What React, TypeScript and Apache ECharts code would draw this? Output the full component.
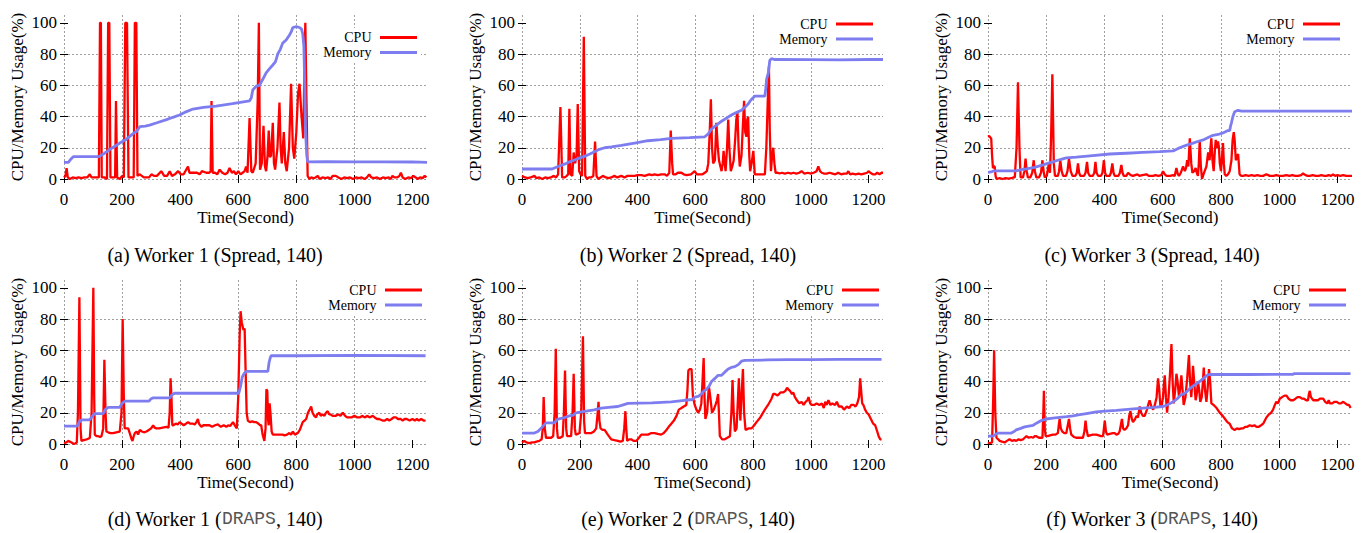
import React, { useEffect, useRef } from 'react';
import * as echarts from 'echarts';

const X_TICKS = [0, 200, 400, 600, 800, 1000, 1200];
const Y_TICKS = [0, 20, 40, 60, 80, 100];
const X_MAX = 1250;
const Y_MAX = 105;
const SERIES_NAMES = ['CPU', 'Memory'];
const CAPTIONS = [
  '(a) Worker 1 (Spread, 140)',
  '(b) Worker 2 (Spread, 140)',
  '(c) Worker 3 (Spread, 140)',
  '(d) Worker 1 ({m|DRAPS}, 140)',
  '(e) Worker 2 ({m|DRAPS}, 140)',
  '(f) Worker 3 ({m|DRAPS}, 140)',
];

const cpuA = [[0,1],[5,2],[9,7],[13,1],[20,0],[30,1],[40,0.5],[50,1],[60,0.5],[70,1],[80,1],[89,3],[95,1],[105,1],[115,1],[120,1],[124,100],[127,100],[130,1],[140,1],[148,0],[152,100],[156,100],[160,1],[170,1],[176,1],[179,50],[183,1],[192,0],[200,2],[206,1],[211,100],[217,100],[222,1],[232,1],[240,1],[244,100],[249,100],[253,2],[260,3],[268,2],[275,1],[285,1],[293,1],[301,3],[310,2],[320,2],[335,5],[345,2],[355,2],[364,5],[372,2],[382,3],[393,5],[402,3],[412,3],[427,8],[432,4],[445,4],[458,4],[467,3],[475,5],[490,4],[500,4],[505,5],[508,50],[512,4],[520,4],[528,3],[536,6],[545,4],[555,3],[563,4],[570,7],[578,4],[585,5],[592,3],[600,5],[608,3],[615,4],[622,5],[627,8],[632,4],[639,39],[645,5],[650,4],[660,10],[667,50],[671,100],[675,6],[681,10],[687,34],[692,8],[696,5],[701,15],[705,31],[709,14],[713,15],[719,36],[723,10],[727,6],[735,20],[742,49],[746,20],[750,10],[757,30],[762,10],[767,5],[775,20],[782,61],[788,20],[793,13],[800,30],[806,55],[811,61],[818,40],[824,26],[828,70],[831,100],[835,50],[839,2],[845,0],[852,1],[860,0.5],[866,1],[874,2],[880,0],[890,1],[900,0.5],[910,1],[918,0],[925,2],[936,2],[945,1],[955,0],[965,1],[975,0.5],[985,1],[995,0],[1005,1],[1015,0.5],[1025,1],[1035,0],[1043,1],[1051,3],[1058,1],[1068,0.5],[1078,1],[1088,0],[1098,1],[1108,0.5],[1118,1],[1125,0],[1131,2],[1138,1],[1148,1],[1155,2],[1160,4],[1166,1],[1175,0],[1185,1],[1195,0.5],[1203,2],[1211,1],[1218,0],[1226,1],[1235,0.5],[1242,2],[1248,1]];
const memA = [[0,10.7],[15,10.7],[25,13],[32,14.3],[120,14.3],[140,16.5],[158,19],[175,21],[192,23],[215,25.5],[238,29],[250,30.5],[261,33.5],[280,33.8],[295,34.5],[320,36],[353,38],[375,39.5],[398,41],[420,43],[444,44.8],[480,45.8],[524,46.7],[580,48.3],[639,50],[645,52],[650,57],[662,59.5],[673,60],[685,64],[696,68],[705,70],[719,73],[728,75],[736,80],[745,83],[753,87],[765,89],[776,92],[782,94],[788,97],[800,97.5],[811,97],[818,96],[822,93],[826,85],[829,60],[832,30],[836,15],[839,11],[900,11.1],[1000,11],[1100,11],[1200,10.9],[1250,10.6]];

const cpuB = [[0,2],[10,1],[20,0.5],[30,1],[43,2],[50,0.5],[60,1],[70,0],[80,1],[90,0.5],[100,1],[110,2],[118,1],[125,3],[133,46],[139,1],[148,1],[155,2],[160,3],[164,45],[168,3],[174,2],[179,17],[184,10],[189,15],[193,48],[198,5],[203,3],[208,2],[214,91],[219,2],[225,0],[232,1],[240,1],[247,2],[253,24],[258,2],[264,0],[272,1],[280,2],[290,1],[300,0.5],[309,1],[320,2],[330,1],[344,2],[355,1],[365,2],[378,2],[390,2],[400,2.5],[413,2.5],[425,2],[440,3],[450,2.5],[459,3],[470,2.5],[482,3],[494,3],[502,2],[510,4],[515,31],[520,10],[523,3],[532,3],[540,4],[552,4],[560,3],[570,2.5],[585,3],[598,5],[605,3],[615,3],[625,3],[633,4],[640,5],[645,10],[650,30],[654,51],[658,20],[662,10],[668,12],[673,36],[678,20],[682,12],[687,8],[691,5],[695,10],[698,18],[702,10],[705,5],[710,20],[714,38],[718,20],[723,5],[728,8],[733,12],[738,25],[742,38],[746,43],[750,20],[754,8],[760,15],[765,35],[769,50],[773,30],[777,27],[780,38],[783,40],[787,15],[790,5],[795,10],[801,18],[806,3],[815,3],[825,3],[835,3],[841,3],[846,20],[851,50],[855,72],[858,30],[862,5],[866,15],[870,20],[874,10],[878,4],[885,4],[892,3.5],[900,4],[910,3.5],[922,4],[932,3.5],[940,4],[950,3.5],[960,4],[968,5],[978,3.5],[990,4],[1000,3.5],[1010,4],[1020,5],[1026,8],[1032,5],[1038,4],[1045,3.5],[1055,3.5],[1065,4],[1075,3.5],[1085,3],[1095,4],[1105,3],[1115,3.5],[1125,3.5],[1130,5],[1136,3],[1145,3.5],[1155,3],[1165,3.5],[1175,3],[1185,3.5],[1195,4],[1200,5],[1206,4],[1215,3],[1223,3],[1230,4],[1238,3],[1245,4],[1250,4]];
const memB = [[0,6.4],[104,6.4],[125,8],[147,9.5],[165,11],[182,12.2],[200,13.5],[216,14.5],[235,16],[251,17.5],[268,19],[286,20],[310,20.6],[344,21.5],[390,23],[436,24.5],[480,25.2],[517,26],[580,26.5],[633,27],[645,29],[656,32],[670,34],[691,37],[708,39],[725,41],[742,42.5],[760,44],[772,46],[783,48],[790,50],[795,51],[806,53],[841,53],[844,58],[847,64],[853,68],[858,76],[864,77],[876,76.5],[1000,76.4],[1100,76.3],[1200,76.5],[1250,76.5]];

const cpuC = [[0,27],[4,27.5],[11,26],[14,15],[17,7],[20,8],[23,8],[26,2],[29,0],[40,0.5],[50,0],[60,0.5],[70,0.3],[80,0.5],[88,1],[92,1],[98,20],[103,62],[108,20],[112,1],[120,1],[125,5],[129,13],[133,5],[137,1],[145,1],[152,4],[157,12],[161,5],[166,1],[175,1],[182,4],[187,12],[191,5],[195,1],[202,2],[209,10],[213,4],[217,30],[221,67],[226,10],[230,2],[240,2],[244,5],[248,12],[253,5],[258,2],[268,2],[273,5],[278,13],[284,5],[290,2],[300,2],[305,4],[309,10],[313,4],[317,2],[330,2],[335,4],[340,11],[344,4],[349,2],[360,2],[365,4],[369,11],[373,4],[378,2],[388,2],[393,4],[398,12],[402,4],[406,2],[418,2],[422,4],[427,10],[431,4],[435,2],[448,2],[453,4],[458,9],[462,4],[466,2],[475,2],[481,4],[490,2.5],[498,2],[505,2.5],[513,3],[520,2],[530,2.5],[544,3],[552,2],[560,2],[567,2],[575,2.5],[585,2],[595,2.5],[601,5],[607,3],[613,2],[625,2],[635,2.5],[641,2],[647,7],[652,3],[656,2],[662,4],[666,6],[670,8],[676,5],[680,7],[684,12],[688,8],[693,26],[698,10],[702,4],[708,5],[713,7],[717,4],[721,2],[724,10],[727,25],[731,8],[735,0],[740,3],[744,5],[750,8],[756,17],[761,12],[764,20],[767,26],[771,12],[775,5],[779,18],[782,25],[786,20],[790,24],[793,20],[796,10],[800,5],[804,15],[807,23],[810,10],[813,3],[818,2],[824,3],[830,5],[836,12],[840,25],[844,30],[847,25],[851,12],[855,14],[859,16],[862,8],[864,3],[870,2],[876,2],[885,2.5],[895,2],[905,2.5],[915,2],[925,2.5],[935,2],[945,2],[956,3],[962,2.5],[968,2],[980,2],[990,2.5],[1000,2],[1013,2],[1025,2.5],[1035,2],[1045,2.5],[1055,2],[1065,2],[1075,2.5],[1082,3.5],[1090,2.5],[1098,2],[1105,2],[1115,2.5],[1125,2],[1135,2],[1145,2.5],[1155,2],[1162,2],[1170,2.5],[1178,2],[1185,3],[1192,2],[1200,2.5],[1210,2],[1220,2.5],[1230,2],[1242,2],[1250,2]];
const memC = [[0,4.3],[10,4.5],[17,5],[25,5.2],[97,5.2],[115,6],[132,6.5],[160,7.5],[189,9],[205,10],[223,11],[245,12.3],[269,13.5],[303,14],[360,15],[418,16],[475,16.5],[532,17],[590,17.5],[636,18],[648,19],[658,20],[680,21.5],[704,23],[720,24],[739,25],[756,26.5],[773,28],[790,28.5],[807,29.5],[824,31],[830,31],[833,34],[836,36],[841,40],[847,43],[859,44],[870,43.5],[1000,43.5],[1100,43.5],[1200,43.5],[1250,43.5]];

const cpuD = [[0,0.5],[8,1],[15,2],[20,1.5],[26,1],[34,0],[40,0.5],[44,1],[48,20],[53,94],[57,10],[60,2],[68,2.5],[78,3],[85,3.5],[89,4],[95,20],[101,100],[104,30],[106,6],[112,5],[118,5],[124,4.5],[129,5],[135,10],[139,54],[143,20],[146,8],[152,7.5],[160,7],[169,7],[180,7.5],[192,8],[198,20],[202,80],[206,30],[209,10],[215,10],[221,10],[228,6],[233,3],[236,2],[240,5],[244,7],[250,8],[255,6],[261,9],[268,8],[275,7.5],[284,8],[292,9],[300,10],[307,12],[312,10.5],[318,10],[328,10],[340,10.5],[353,11],[360,10.5],[364,20],[367,42],[370,30],[373,12],[376,12],[385,13],[392,12.5],[398,14],[405,13],[412,12],[420,13],[427,14],[435,13],[444,13],[450,12.5],[456,14],[461,16],[465,13],[473,11],[480,12],[490,12],[501,12],[510,11],[520,12],[530,12.5],[540,11],[550,12],[559,11],[565,12],[572,11.5],[582,14],[588,12],[595,10],[600,30],[605,70],[608,85],[612,78],[618,73],[622,74],[625,50],[629,20],[633,15],[640,14],[648,14.5],[655,14],[662,14],[670,13],[675,12],[679,12],[684,6],[690,2],[694,10],[697,35],[700,34],[703,15],[705,12],[708,26],[711,20],[715,8],[719,6],[730,6],[740,6],[748,6],[753,6],[760,5.5],[768,6],[776,7],[782,6],[788,8],[795,6],[805,7],[812,9],[816,11],[822,14],[828,15],[834,16],[840,20],[846,22],[851,24],[856,20],[862,18],[868,17],[872,19],[879,20],[884,18],[890,19],[897,18],[902,20],[908,21],[913,19],[918,19],[925,18],[935,18],[945,19],[952,18],[960,20],[968,18],[975,17],[982,17],[990,17],[1000,18],[1010,17],[1018,17],[1028,18],[1035,17],[1045,18],[1052,17],[1063,18],[1070,17],[1078,16],[1085,16],[1097,15],[1105,15],[1113,16],[1120,15],[1128,16],[1135,17],[1143,17],[1150,16],[1160,16],[1166,15],[1173,16],[1180,16],[1190,15],[1200,16],[1208,15],[1215,16],[1222,15],[1230,16],[1238,15],[1245,15]];
const memD = [[0,11.5],[46,11.5],[52,14],[61,15.5],[89,15.5],[98,18],[106,19.5],[135,19.5],[142,22],[152,23.5],[192,23.5],[200,26],[210,27.5],[293,27.5],[300,29],[307,29.5],[364,29.5],[372,31.5],[381,32.5],[500,32.5],[602,32.5],[608,37],[614,43],[620,45],[627,46.5],[702,46.5],[706,52],[710,55],[713,56.5],[800,56.5],[1000,56.7],[1245,56.5]];

const cpuE = [[0,1],[8,2],[15,1],[25,0.5],[35,1],[43,1],[50,1.5],[60,2],[68,3],[72,10],[75,30],[79,10],[83,4],[90,4],[101,4],[108,5],[113,20],[117,61],[121,10],[124,4],[132,4],[141,5],[145,20],[149,47],[153,10],[156,5],[163,5],[170,5],[175,20],[179,45],[183,10],[186,6],[193,6.5],[199,7],[205,20],[211,69],[215,15],[218,7],[228,7],[240,7],[249,8],[257,10],[262,20],[265,27],[268,15],[272,10],[279,9],[286,9],[297,6],[309,3],[320,2.5],[332,2],[340,1.5],[349,2],[354,10],[358,21],[361,10],[364,2],[371,3],[378,3],[386,2],[396,2],[405,4],[413,6],[424,6],[436,6],[448,7],[459,7],[470,6.5],[482,6],[491,7],[500,9],[508,11],[517,13],[526,15],[535,18],[543,22],[552,23],[560,24],[569,25],[573,35],[576,47],[581,48],[587,48],[592,30],[598,25],[604,22],[610,20],[616,22],[621,26],[625,40],[629,55],[632,30],[635,16],[641,20],[647,37],[652,30],[658,20],[664,22],[670,25],[675,28],[679,32],[683,15],[685,5],[693,3],[702,3],[711,4],[720,5],[725,20],[729,41],[733,20],[737,8],[743,10],[748,30],[751,42],[754,25],[756,15],[760,30],[765,48],[769,20],[774,9],[785,10],[795,10],[804,12],[812,14],[825,17],[841,22],[852,25],[864,29],[870,32],[876,32],[885,31],[895,33],[905,33],[912,34],[918,36],[922,35],[928,34],[935,32],[939,33],[945,30],[952,28],[960,26],[968,27],[975,25],[982,27],[988,28],[992,30],[998,26],[1003,25],[1012,25],[1020,26],[1030,25],[1038,26],[1045,23],[1050,27],[1055,25],[1061,28],[1068,25],[1075,26],[1084,25],[1090,27],[1097,24],[1107,24],[1115,22],[1125,24],[1133,23],[1140,25],[1148,25],[1155,24],[1161,26],[1167,30],[1171,42],[1174,35],[1178,26],[1182,25],[1188,22],[1194,20],[1200,19],[1208,16],[1216,13],[1223,12],[1230,8],[1235,5],[1240,3],[1245,3]];
const memE = [[0,7],[43,7],[55,8],[68,10.5],[83,13.5],[112,13.5],[124,16],[140,16.5],[164,18],[178,18.5],[187,20],[205,20.5],[222,21],[250,21.8],[274,23],[300,23.5],[332,24],[350,25],[367,26],[450,26.3],[517,27],[563,28],[590,28.5],[598,30],[610,30.5],[621,32],[630,34],[639,35],[648,37],[656,40],[668,42],[679,44],[691,44],[702,46],[714,48],[725,49],[737,49.5],[750,51],[760,53],[772,53.5],[850,53.8],[922,54],[1000,54],[1100,54.2],[1245,54.2]];

const cpuF = [[0,1],[6,0.5],[14,1],[18,30],[21,60],[25,20],[29,4],[35,3],[40,2],[48,1.5],[57,1],[65,2],[74,3],[82,2],[90,2.5],[97,2],[105,3],[112,2.5],[120,3],[126,4],[132,5],[140,4],[148,4.5],[155,4],[160,5],[166,5],[175,4],[183,4],[187,4],[190,20],[192,34],[195,10],[198,5],[205,5],[213,5.5],[223,6],[232,6],[240,7],[243,12],[246,16],[250,10],[255,8],[262,7],[269,7],[274,12],[278,16],[282,10],[286,6],[295,4.5],[303,4],[312,4],[320,4],[326,4],[331,8],[335,15],[338,10],[343,5],[350,5.5],[360,6],[372,6],[380,5.5],[388,5],[395,5],[398,10],[401,15],[405,8],[409,6],[418,6.5],[429,7],[435,7],[441,6],[447,6.5],[452,8],[456,12],[460,16],[464,10],[469,9],[475,10],[481,12],[485,18],[489,21],[494,16],[498,14],[505,16],[510,18],[515,17],[521,24],[526,20],[532,18],[538,18],[546,22],[550,25],[555,28],[561,24],[567,22],[573,25],[579,30],[584,42],[588,35],[592,24],[597,25],[601,30],[604,38],[607,44],[611,30],[615,20],[620,30],[625,45],[630,64],[634,40],[638,26],[643,35],[647,45],[651,40],[656,30],[660,36],[664,44],[668,35],[672,25],[678,30],[684,42],[690,57],[694,40],[698,30],[701,38],[704,50],[708,40],[713,28],[717,32],[721,40],[725,35],[729,27],[734,30],[738,40],[741,49],[745,35],[750,27],[754,35],[759,48],[763,40],[767,26],[775,25],[785,23],[796,20],[806,18],[814,16],[822,14],[830,13],[838,10],[847,9],[855,10],[862,9.5],[870,10],[876,10],[883,11],[890,11],[899,12],[907,11.5],[915,12],[922,11],[930,11],[938,12],[945,13],[956,17],[965,19],[972,20],[979,22],[985,25],[990,27],[996,26],[1002,29],[1010,30],[1018,31],[1025,31],[1032,29],[1040,28],[1048,28],[1056,29],[1063,30],[1071,30],[1078,29],[1085,29],[1093,28],[1099,28],[1102,32],[1105,34],[1109,30],[1117,28],[1125,28],[1133,28],[1140,29],[1151,29],[1158,27],[1165,26],[1170,28],[1174,26],[1182,26],[1190,27],[1197,27],[1205,26],[1212,26],[1220,27],[1227,26],[1234,25],[1240,25],[1245,23]];
const memF = [[0,5],[17,5],[25,6],[34,7],[80,7],[90,8],[97,9],[112,10],[126,11],[140,11.5],[155,12],[168,13.5],[183,15],[200,16],[223,16.5],[246,17],[270,17.5],[292,18],[315,18.8],[338,19.5],[372,20.5],[400,21],[441,21.5],[490,22.3],[532,23],[570,23.5],[601,24],[615,25],[636,27],[650,29],[660,31],[670,32],[680,33],[690,35],[704,37],[715,38.5],[727,40],[740,42],[752,44],[761,44.5],[900,44.5],[1000,44.6],[1048,44.6],[1050,45],[1245,45]];

const CPU_SERIES = [cpuA, cpuB, cpuC, cpuD, cpuE, cpuF];
const MEM_SERIES = [memA, memB, memC, memD, memE, memF];

// layout (pixels)
const GRIDS = [
  { left: 64, top: 15, width: 363, height: 164 },
  { left: 522, top: 15, width: 361, height: 164 },
  { left: 988, top: 15, width: 364, height: 164 },
  { left: 64, top: 280, width: 363, height: 164 },
  { left: 522, top: 280, width: 361, height: 164 },
  { left: 988, top: 280, width: 364, height: 164 },
];
const LEGEND_POS = [
  { right: 951, top: 28 },
  { right: 495, top: 14.5 },
  { right: 28, top: 14.5 },
  { right: 946, top: 280.5 },
  { right: 489, top: 280.5 },
  { right: 22, top: 280.5 },
];
const CAPTION_POS = [
  [215, 255], [688, 255], [1152, 255],
  [215, 519], [688, 519], [1152, 519],
];

const SERIF = '"Liberation Serif", "Times New Roman", serif';
const CPU_COLOR = '#ff0000';
const MEM_COLOR = '#7d7df0';
const GRID_LINE = { color: '#a0a0a0', type: [2, 2], width: 1 };

export default function App() {
  const ref = useRef<HTMLDivElement>(null);
  useEffect(() => {
    if (!ref.current) return;
    const chart = echarts.init(ref.current, null, { renderer: 'svg' });
    const xAxis: any[] = [];
    const yAxis: any[] = [];
    const series: any[] = [];
    GRIDS.forEach((_, i) => {
      xAxis.push({
        type: 'value', gridIndex: i, min: 0, max: X_MAX, interval: 200, position: 'bottom',
        name: 'Time(Second)', nameLocation: 'middle', nameGap: 27,
        nameTextStyle: { fontFamily: SERIF, fontSize: 17, color: '#000' },
        axisLine: { show: false },
        axisTick: { show: true, inside: true, length: 4, lineStyle: { color: '#000' }, customValues: X_TICKS },
        axisLabel: { fontFamily: SERIF, fontSize: 17, color: '#000', margin: 12, customValues: X_TICKS,
          formatter: (v: number) => (v % 200 === 0 ? String(v) : '') },
        splitLine: { show: true, lineStyle: GRID_LINE, showMaxLine: false },
      });
      xAxis.push({
        type: 'value', gridIndex: i, min: 0, max: X_MAX, interval: 200, position: 'top',
        axisLine: { show: false },
        axisTick: { show: true, inside: true, length: 4, lineStyle: { color: '#000' }, customValues: X_TICKS },
        axisLabel: { show: false },
        splitLine: { show: false },
      });
      yAxis.push({
        type: 'value', gridIndex: i, min: 0, max: Y_MAX, interval: 20, position: 'left',
        name: 'CPU/Memory Usage(%)', nameLocation: 'middle', nameGap: 38, nameRotate: 90,
        nameTextStyle: { fontFamily: SERIF, fontSize: 17, color: '#000' },
        axisLine: { show: false },
        axisTick: { show: true, inside: true, length: 4, lineStyle: { color: '#000' }, customValues: Y_TICKS },
        axisLabel: { fontFamily: SERIF, fontSize: 17, color: '#000', margin: 7, customValues: Y_TICKS,
          formatter: (v: number) => (v % 20 === 0 ? String(v) : '') },
        splitLine: { show: true, lineStyle: GRID_LINE, showMaxLine: false },
      });
      yAxis.push({
        type: 'value', gridIndex: i, min: 0, max: Y_MAX, interval: 20, position: 'right',
        axisLine: { show: false },
        axisTick: { show: true, inside: true, length: 4, lineStyle: { color: '#000' }, customValues: Y_TICKS },
        axisLabel: { show: false },
        splitLine: { show: false },
      });
      series.push({
        name: SERIES_NAMES[0], type: 'line', xAxisIndex: 2 * i, yAxisIndex: 2 * i,
        data: CPU_SERIES[i], symbol: 'none', showSymbol: false, clip: false,
        lineStyle: { color: CPU_COLOR, width: 2.3 }, itemStyle: { color: CPU_COLOR }, z: 3,
      });
      series.push({
        name: SERIES_NAMES[1], type: 'line', xAxisIndex: 2 * i, yAxisIndex: 2 * i,
        data: MEM_SERIES[i], symbol: 'none', showSymbol: false, clip: false,
        lineStyle: { color: MEM_COLOR, width: 2.8 }, itemStyle: { color: MEM_COLOR }, z: 4,
      });
    });
    const legend = LEGEND_POS.map((p) => ({
      orient: 'vertical', align: 'right', right: p.right, top: p.top,
      itemWidth: 37, itemHeight: 3, itemGap: 0,
      padding: [2, 4, 2, 6], backgroundColor: '#fff',
      selectedMode: false,
      formatter: (n: string) => n + '\u00a0',
      data: SERIES_NAMES.map((n) => ({ name: n, icon: 'rect' })),
      textStyle: { fontFamily: SERIF, fontSize: 14, color: '#000', lineHeight: 15 },
    }));
    const graphic = CAPTIONS.map((c, i) => ({
      type: 'text', x: CAPTION_POS[i][0], y: CAPTION_POS[i][1],
      style: {
        text: c, fontFamily: SERIF, fontSize: 20, fill: '#000', align: 'center', verticalAlign: 'middle',
        rich: { m: { fontFamily: '"Liberation Mono", monospace', fontSize: 18, fill: '#555' } },
      },
    }));
    chart.setOption({
      animation: false,
      backgroundColor: '#fff',
      grid: GRIDS.map((g) => ({ ...g, containLabel: false })),
      xAxis, yAxis, series, legend, graphic,
    });
    return () => chart.dispose();
  }, []);
  return (
    <div ref={ref} style={{ position: 'absolute', left: 0, top: 0, width: 1372, height: 533 }} />
  );
}
